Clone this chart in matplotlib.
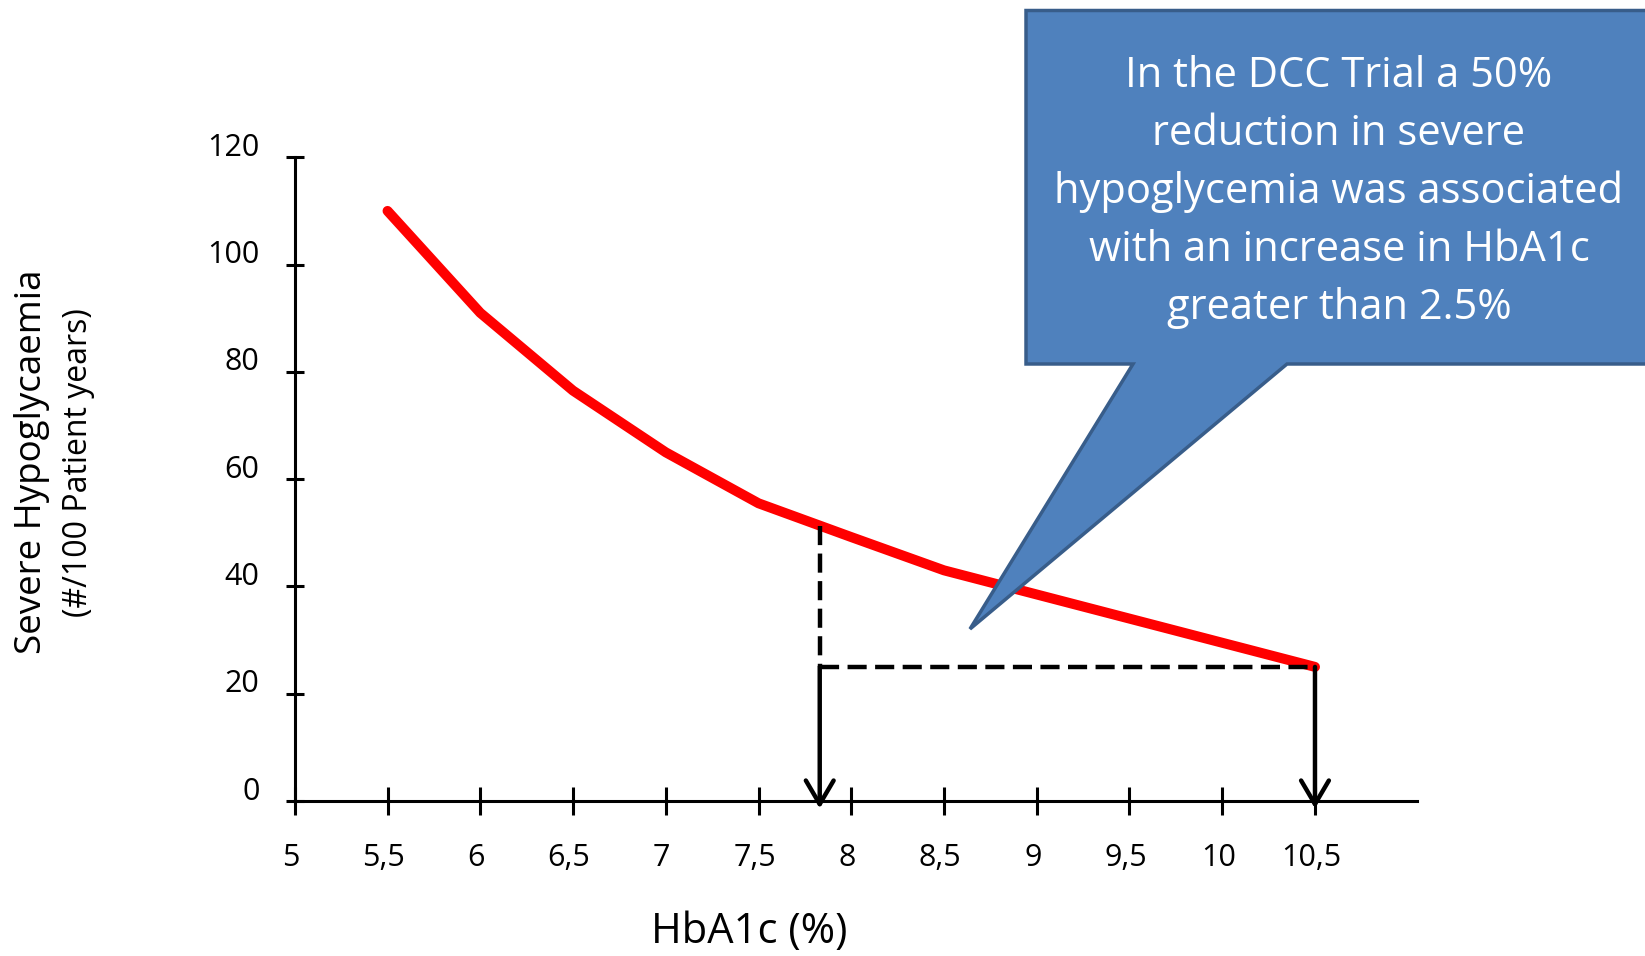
import matplotlib
matplotlib.use('Agg')
import matplotlib.pyplot as plt
import matplotlib.patches as mpatches
from matplotlib.transforms import ScaledTranslation

plt.rcParams['font.family'] = ['Open Sans', 'DejaVu Sans']

# data
hba1c = [5.5, 6, 6.5, 7, 7.5, 8, 8.5, 9, 9.5, 10, 10.5]
hypo = [110, 91, 76.5, 65, 55.5, 49.2, 43, 38.5, 34, 29.5, 25]
xticks = [5, 5.5, 6, 6.5, 7, 7.5, 8, 8.5, 9, 9.5, 10, 10.5]
xlabels = ['5', '5,5', '6', '6,5', '7', '7,5', '8', '8,5', '9', '9,5', '10', '10,5']
yticks = [0, 20, 40, 60, 80, 100, 120]
x_low, x_high = 7.83, 10.5
y_low, y_high = 51.3, 25
callout = 'In the DCC Trial a 50%\nreduction in severe\nhypoglycemia was associated\nwith an increase in HbA1c\ngreater than 2.5%'

W, H = 1645, 956
fig = plt.figure(figsize=(W / 100, H / 100), dpi=100)
ax = fig.add_axes([294.8 / W, 1 - 801 / H, (1417 - 294.8) / W, (801 - 157.3) / H])

ax.plot(hba1c, hypo, color='#ff0000', lw=7.2, solid_capstyle='round', solid_joinstyle='round', zorder=3)

# dashed guides
ax.plot([x_low, x_low], [y_low, y_high], color='k', lw=3.2, ls=(0, (4.3, 1.9)), zorder=4)
ax.plot([x_low, x_high], [y_high, y_high], color='k', lw=3.2, ls=(0, (4.3, 1.9)), zorder=4)

# arrows down to the axis
for xa in (x_low, x_high):
    ax.annotate('', xy=(xa, -1.4), xytext=(xa, y_high), annotation_clip=False,
                arrowprops=dict(arrowstyle='->,head_length=17,head_width=10', mutation_scale=1,
                                lw=3.2, color='k', shrinkA=0, shrinkB=0), zorder=4)

ax.set_xlim(5, 11.05)
ax.set_ylim(0, 120)
for s in ['top', 'right']:
    ax.spines[s].set_visible(False)
for s in ['left', 'bottom']:
    ax.spines[s].set_linewidth(2.2)

ax.set_xticks(xticks)
ax.set_xticklabels(xlabels)
ax.set_yticks(yticks)
ax.tick_params(axis='x', direction='inout', length=20, width=2.2, labelsize=22, pad=20)
ax.tick_params(axis='y', direction='inout', length=13, width=2.2, labelsize=22, pad=19)
for lab in ax.get_yticklabels():
    lab.set_transform(lab.get_transform() + ScaledTranslation(0, 13 / 100, fig.dpi_scale_trans))
for lab in ax.get_xticklabels():
    lab.set_transform(lab.get_transform() + ScaledTranslation(-4 / 100, 0, fig.dpi_scale_trans))

ax.set_xlabel('HbA1c (%)', fontsize=30, va='center')
ax.xaxis.set_label_coords(0.4047, -0.2029)
ax.set_ylabel('Severe Hypoglycaemia', fontsize=26.5, va='center')
ax.yaxis.set_label_coords(-0.2346, 0.5273)
fig.text(78.7 / W, 1 - 462.6 / H, '(#/100 Patient years)', fontsize=23, rotation=90,
         ha='center', va='center')

# speech-bubble callout (pixel corners, y measured from top)
pts = [(1026, 10.5), (1700, 10.5), (1700, 364), (1287, 364), (970, 629),
       (1133, 364), (1026, 364)]
poly = mpatches.Polygon([(x / W, 1 - y / H) for x, y in pts], closed=True,
                        transform=fig.transFigure, facecolor='#4f81bd', edgecolor='#385d8a',
                        lw=2.5, joinstyle='miter', zorder=10, clip_on=False)
fig.patches.append(poly)
fig.text(1339 / W, 1 - 192 / H, callout, color='white', fontsize=30, ha='center',
         va='center', linespacing=1.5, zorder=11)

fig.savefig('out.png', dpi=100)
